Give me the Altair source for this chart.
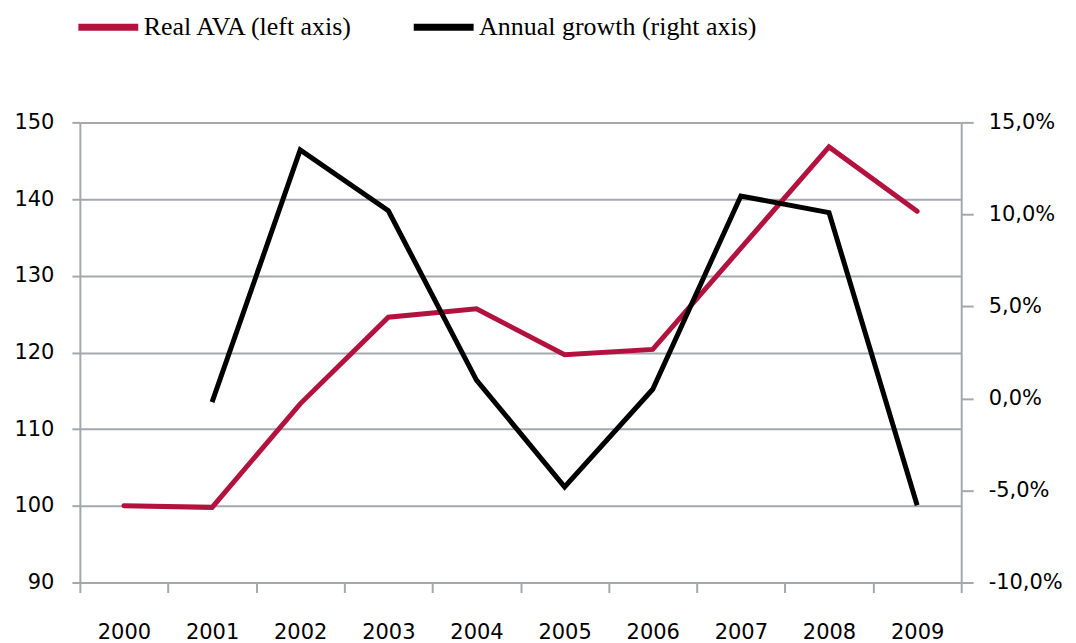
import altair as alt
import pandas as pd

years = ["2000", "2001", "2002", "2003", "2004", "2005", "2006", "2007", "2008", "2009"]
real_ava = [100.0, 99.8, 113.3, 124.6, 125.7, 119.7, 120.4, 133.6, 146.8, 138.4]
growth_years = ["2001", "2002", "2003", "2004", "2005", "2006", "2007", "2008", "2009"]
growth = [-0.2, 13.5, 10.2, 1.0, -4.8, 0.5, 11.0, 10.1, -5.8]
left_ticks = [90, 100, 110, 120, 130, 140, 150]
right_ticks = [-10, -5, 0, 5, 10, 15]

S1 = "Real AVA (left axis)"
S2 = "Annual growth (right axis)"
RED = "#B3123E"
GRID = "#A3A8AE"
TICKFONT = "DejaVu Sans"

df1 = pd.DataFrame({"year": years, "value": real_ava, "series": S1})
df2 = pd.DataFrame({"year": growth_years, "value": growth, "series": S2})

x = alt.X(
    "year:O",
    bandPosition=0.5,
    scale=alt.Scale(type="band", paddingInner=0, paddingOuter=0, domain=years),
    axis=alt.Axis(
        title=None, labelAngle=0, tickBand="extent", grid=False,
        domainColor=GRID, domainWidth=2, tickColor=GRID, tickWidth=2, tickSize=10,
        labelPadding=29, labelFont=TICKFONT, labelFontSize=21, labelColor="#000000",
    ),
)

color = alt.Color(
    "series:N",
    scale=alt.Scale(domain=[S1, S2], range=[RED, "#000000"]),
    legend=alt.Legend(
        title=None, orient="none", legendX=-5, legendY=-129, direction="horizontal",
        symbolType="stroke", symbolSize=3600, symbolStrokeWidth=7,
        labelFont="Liberation Serif", labelFontSize=26, labelColor="#000000",
        labelOffset=2, columnPadding=45, padding=0, labelLimit=0,
    ),
)

left = alt.Chart(df1).mark_line(strokeWidth=5, strokeCap="round", strokeJoin="miter").encode(
    x=x,
    y=alt.Y(
        "value:Q",
        scale=alt.Scale(domain=[90, 150], nice=False, zero=False),
        axis=alt.Axis(
            title=None, values=left_ticks, grid=True, gridColor=GRID, gridWidth=2,
            domainColor=GRID, domainWidth=2, tickColor=GRID, tickWidth=2, tickSize=8,
            labelPadding=18, labelFont=TICKFONT, labelFontSize=21, labelColor="#000000",
        ),
    ),
    color=color,
)

right = alt.Chart(df2).mark_line(strokeWidth=5, strokeCap="butt", strokeJoin="miter").encode(
    x=x,
    y=alt.Y(
        "value:Q",
        scale=alt.Scale(domain=[-10, 15], nice=False, zero=False),
        axis=alt.Axis(
            title=None, orient="right", values=right_ticks, grid=False,
            domainColor=GRID, domainWidth=2, tickColor=GRID, tickWidth=2, tickSize=12,
            labelPadding=15, labelFont=TICKFONT, labelFontSize=21, labelColor="#000000",
            labelExpr="(datum.value < 0 ? '-' : '') + replace(format(abs(datum.value), '.1f'), '.', ',') + '%'",
        ),
    ),
    color=color,
)

chart = (
    alt.layer(left, right)
    .resolve_scale(y="independent")
    .properties(width=883, height=461, padding={"left": 5, "top": -15, "right": 5, "bottom": 5}, background="white")
    .configure_view(stroke=None)
)

chart.save("out.html", embed_options={"renderer": "svg", "actions": False})
